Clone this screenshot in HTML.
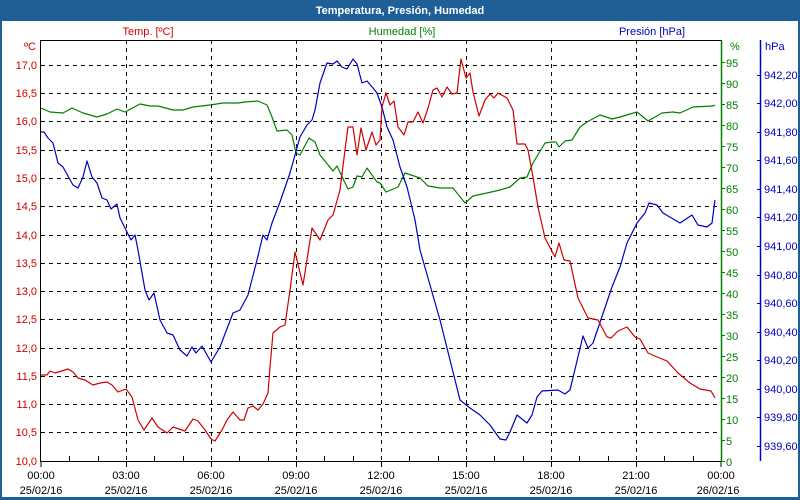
<!DOCTYPE html>
<html><head><meta charset="utf-8"><style>
html,body{margin:0;padding:0;width:800px;height:500px;overflow:hidden;background:#fff}
svg{display:block}
text{font-family:"Liberation Sans",sans-serif;font-size:11px}
</style></head><body>
<svg width="800" height="500" viewBox="0 0 800 500" xmlns="http://www.w3.org/2000/svg">
<rect x="0" y="0" width="800" height="500" fill="#1e5f98"/>
<rect x="2" y="21" width="796" height="476" fill="#fff"/>
<text x="400" y="14" fill="#fff" font-weight="bold" text-anchor="middle">Temperatura, Presión, Humedad</text>
<text x="148" y="35" fill="#d00000" text-anchor="middle">Temp. [ºC]</text>
<text x="402" y="35" fill="#008000" text-anchor="middle">Humedad [%]</text>
<text x="652" y="35" fill="#0000c0" text-anchor="middle">Presión [hPa]</text>
<text x="36" y="50" fill="#d00000" text-anchor="end">ºC</text>
<text x="730" y="50" fill="#008000">%</text>
<text x="765" y="50" fill="#0000c0">hPa</text>
<g stroke="#000" stroke-dasharray="4,4" stroke-width="1" fill="none">
<path d="M41 65.5H721M41 93.5H721M41 121.5H721M41 150.5H721M41 178.5H721M41 206.5H721M41 235.5H721M41 263.5H721M41 291.5H721M41 319.5H721M41 348.5H721M41 376.5H721M41 404.5H721M41 432.5H721"/>
<path d="M126.5 40V461M211.5 40V461M296.5 40V461M381.5 40V461M466.5 40V461M551.5 40V461M636.5 40V461"/>
</g>
<g stroke="#000" stroke-width="1" fill="none">
<path d="M40.5 40V461.5H721M40 40.5H721"/>
<path id="mt" d="M69.5 461V456M98.5 461V456M154.5 461V456M183.5 461V456M239.5 461V456M268.5 461V456M324.5 461V456M353.5 461V456M409.5 461V456M438.5 461V456M494.5 461V456M523.5 461V456M579.5 461V456M608.5 461V456M664.5 461V456M693.5 461V456"/>
<path d="M126.5 461V467M211.5 461V467M296.5 461V467M381.5 461V467M466.5 461V467M551.5 461V467M636.5 461V467M41 461V467M721 461V467"/>
</g>
<path d="M721.5 40V461" stroke="#008000" stroke-width="1.5"/>
<path d="M760.5 40V461" stroke="#0000c0" stroke-width="1.5"/>
<g fill="#d00000" text-anchor="end">
<text x="37" y="69">17,0</text><text x="37" y="97">16,5</text><text x="37" y="125">16,0</text><text x="37" y="154">15,5</text><text x="37" y="182">15,0</text><text x="37" y="210">14,5</text><text x="37" y="239">14,0</text><text x="37" y="267">13,5</text><text x="37" y="295">13,0</text><text x="37" y="323">12,5</text><text x="37" y="352">12,0</text><text x="37" y="380">11,5</text><text x="37" y="408">11,0</text><text x="37" y="436">10,5</text><text x="37" y="465">10,0</text>
</g>
<g fill="#008000">
<text x="726" y="466">0</text><text x="726" y="445">5</text><text x="726" y="424">10</text><text x="726" y="403">15</text><text x="726" y="382">20</text><text x="726" y="361">25</text><text x="726" y="340">30</text><text x="726" y="319">35</text><text x="726" y="298">40</text><text x="726" y="277">45</text><text x="726" y="256">50</text><text x="726" y="235">55</text><text x="726" y="214">60</text><text x="726" y="193">65</text><text x="726" y="172">70</text><text x="726" y="151">75</text><text x="726" y="130">80</text><text x="726" y="109">85</text><text x="726" y="88">90</text><text x="726" y="67">95</text>
</g>
<g stroke="#008000"><path d="M721 461.5h4M721 440.5h4M721 419.5h4M721 398.5h4M721 377.5h4M721 356.5h4M721 335.5h4M721 314.5h4M721 293.5h4M721 272.5h4M721 251.5h4M721 230.5h4M721 209.5h4M721 188.5h4M721 167.5h4M721 146.5h4M721 125.5h4M721 104.5h4M721 83.5h4M721 62.5h4"/></g>
<g fill="#0000c0">
<text x="764" y="79">942,20</text><text x="764" y="107">942,00</text><text x="764" y="136">941,80</text><text x="764" y="164">941,60</text><text x="764" y="193">941,40</text><text x="764" y="221">941,20</text><text x="764" y="250">941,00</text><text x="764" y="279">940,80</text><text x="764" y="307">940,60</text><text x="764" y="336">940,40</text><text x="764" y="364">940,20</text><text x="764" y="393">940,00</text><text x="764" y="421">939,80</text><text x="764" y="450">939,60</text>
</g>
<g stroke="#0000c0"><path d="M757 75.5h3M757 103.5h3M757 132.5h3M757 160.5h3M757 189.5h3M757 217.5h3M757 246.5h3M757 275.5h3M757 303.5h3M757 332.5h3M757 360.5h3M757 389.5h3M757 417.5h3M757 446.5h3"/></g>
<g fill="#000" text-anchor="middle">
<text x="41" y="479">00:00</text><text x="41" y="494">25/02/16</text>
<text x="126" y="479">03:00</text><text x="126" y="494">25/02/16</text>
<text x="211" y="479">06:00</text><text x="211" y="494">25/02/16</text>
<text x="296" y="479">09:00</text><text x="296" y="494">25/02/16</text>
<text x="381" y="479">12:00</text><text x="381" y="494">25/02/16</text>
<text x="466" y="479">15:00</text><text x="466" y="494">25/02/16</text>
<text x="551" y="479">18:00</text><text x="551" y="494">25/02/16</text>
<text x="636" y="479">21:00</text><text x="636" y="494">25/02/16</text>
<text x="721" y="479">00:00</text><text x="718" y="494">26/02/16</text>
</g>
<g fill="none" stroke-width="1.2" stroke-linejoin="round">
<polyline stroke="#008000" points="41,108 50,112 63,113 72,108 83,113 97,117 107,114 117,109 125,112 140,104 150,106 158,106 173,110 183,110 193,107 210,105 223,103 238,103 245,102 258,101 267,105 272,117 277,131 287,130 292,135 296,153 300,155 309,138 315,142 320,155 333,171 337,166 348,189 353,187 357,176 362,177 367,168 377,182 380,183 386,192 398,187 405,173 420,178 428,186 440,188 453,188 465,203 473,196 487,193 500,190 510,187 520,178 527,177 533,163 545,143 552,142 556,142 559,147 565,141 572,140 580,127 587,122 600,115 612,119 620,117 630,114 637,112 648,121 662,113 673,112 680,113 693,107 713,106 715,105"/>
<polyline stroke="#0000c0" points="41,132 44,132 48,138 53,143 58,163 63,167 73,185 78,188 83,177 87,161 92,177 97,183 102,198 107,200 111,209 117,204 120,218 127,232 131,240 135,235 138,250 145,290 149,300 154,293 160,320 167,333 173,335 180,350 187,356 192,347 196,353 202,346 211,362 220,347 233,313 240,310 248,295 257,260 263,235 267,240 272,223 280,202 290,173 300,137 307,125 312,120 315,110 320,83 327,63 333,64 337,61 342,67 347,69 353,59 357,64 362,83 367,81 373,88 377,93 382,107 387,127 393,140 400,167 407,187 415,220 420,250 430,285 440,320 450,360 460,400 470,408 480,415 490,425 500,439 506,440 510,432 517,415 527,423 532,415 537,397 542,391 558,390 565,394 570,390 583,336 588,348 593,343 612,287 620,267 627,243 637,223 645,213 649,203 657,205 663,213 680,223 692,215 698,225 707,227 712,223 715,200"/>
<polyline stroke="#d00000" points="41,375 47,375 50,371 55,373 68,369 73,372 78,378 85,380 93,385 100,383 107,382 112,385 118,392 126,389 132,397 138,420 144,430 152,418 158,427 167,433 173,427 185,431 193,419 198,421 205,430 211,439 215,441 222,430 227,420 233,412 240,420 244,420 248,408 253,406 258,410 263,404 268,393 270,367 273,333 280,327 285,325 290,290 295,252 303,285 312,228 320,240 328,220 333,215 340,190 345,150 348,127 353,127 357,155 361,128 366,150 372,132 376,145 380,140 382,107 386,93 390,105 394,101 398,127 404,135 408,122 413,122 418,112 423,123 428,108 433,90 437,88 442,97 447,87 452,94 457,93 461,59 466,78 470,73 473,92 479,116 485,100 490,94 494,98 498,93 507,98 513,110 517,144 525,144 528,150 533,177 538,207 545,238 555,257 559,243 564,260 570,261 578,298 588,318 598,320 607,337 611,338 618,331 627,327 635,337 640,339 648,353 657,357 667,361 678,373 690,383 700,389 711,391 715,398"/>
</g>
</svg>
</body></html>
